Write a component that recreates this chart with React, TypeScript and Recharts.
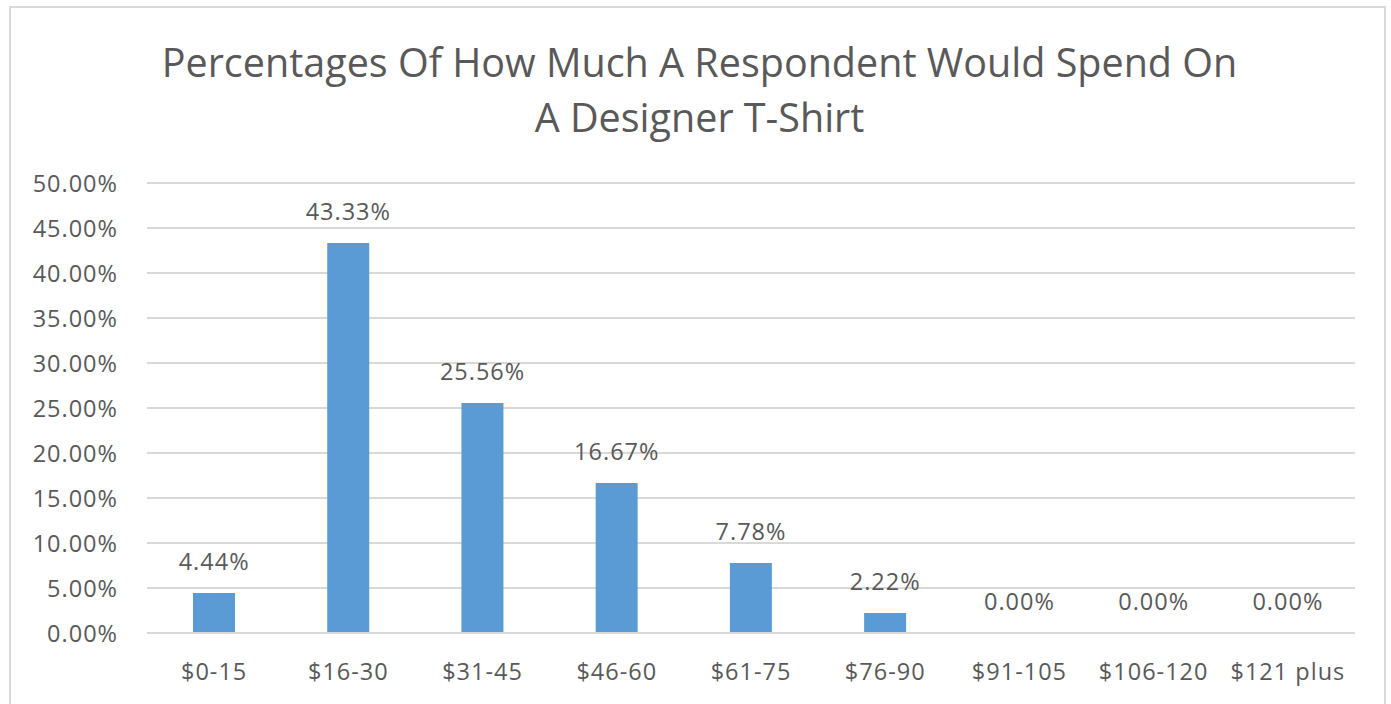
import React from "react";
import { ComposedChart, Bar, Line, XAxis, YAxis, CartesianGrid, LabelList } from "recharts";

const categories = ["$0-15", "$16-30", "$31-45", "$46-60", "$61-75", "$76-90", "$91-105", "$106-120", "$121 plus"];
const percentages = [4.44, 43.33, 25.56, 16.67, 7.78, 2.22, 0.0, 0.0, 0.0];
const yTicks = [0, 5, 10, 15, 20, 25, 30, 35, 40, 45, 50];
const titleLines = ["Percentages Of How Much A Respondent Would Spend On", "A Designer T-Shirt"];

const data = categories.map((c, i) => ({ name: c, value: percentages[i] }));

const FONT = "'Open Sans', sans-serif";
const GREY = "#595959";
const FS = 23.5;
const LS = 1;

const YTick = (props: any) => {
  const { y, payload } = props;
  return (
    <text x={118} y={y} textAnchor="end" dominantBaseline="central" fill={GREY} fontSize={FS} letterSpacing={LS} fontFamily={FONT}>
      {payload.value.toFixed(2)}%
    </text>
  );
};

const XTick = (props: any) => {
  const { x, y, payload } = props;
  return (
    <text x={x} y={y + 30} textAnchor="middle" dominantBaseline="central" fill={GREY} fontSize={FS} letterSpacing={LS} fontFamily={FONT}>
      {payload.value}
    </text>
  );
};

const DataLabel = (props: any) => {
  const { x, y, value } = props;
  return (
    <text x={x} y={y - 32} textAnchor="middle" dominantBaseline="central" fill={GREY} fontSize={FS} letterSpacing={LS} fontFamily={FONT}>
      {Number(value).toFixed(2)}%
    </text>
  );
};

export default function App() {
  return (
    <div style={{ position: "absolute", left: 0, top: 0, width: 1391, height: 704, overflow: "hidden", background: "#fff" }}>
      <div style={{ position: "absolute", left: 9, top: 6, width: 1377, height: 720, border: "2px solid #d9d9d9", boxSizing: "border-box" }} />
      <div style={{ position: "absolute", left: 0, top: 62, width: 1399, textAlign: "center", fontFamily: FONT, fontSize: 39.5, color: GREY, lineHeight: "55px", transform: "translateY(-27px)" }}>
        {titleLines.map((l, i) => (
          <div key={i} style={{ whiteSpace: "nowrap" }}>{l}</div>
        ))}
      </div>
      <div style={{ position: "absolute", left: 0, top: 0 }}>
        <ComposedChart width={1391} height={704} data={data} margin={{ top: 183, right: 36, bottom: 41, left: 0 }} barCategoryGap={0}>
          <CartesianGrid vertical={false} stroke="#d9d9d9" strokeWidth={2} />
          <YAxis
            type="number"
            domain={[0, 50]}
            ticks={yTicks}
            width={147}
            axisLine={false}
            tickLine={false}
            tick={<YTick />}
            interval={0}
          />
          <XAxis dataKey="name" height={30} axisLine={{ stroke: "#d9d9d9", strokeWidth: 2 }} tickLine={false} tick={<XTick />} interval={0} />
          <Bar dataKey="value" fill="#5b9bd5" barSize={42} isAnimationActive={false} />
          <Line dataKey="value" stroke="none" dot={false} activeDot={false} legendType="none" isAnimationActive={false}>
            <LabelList dataKey="value" content={<DataLabel />} />
          </Line>
        </ComposedChart>
      </div>
    </div>
  );
}
